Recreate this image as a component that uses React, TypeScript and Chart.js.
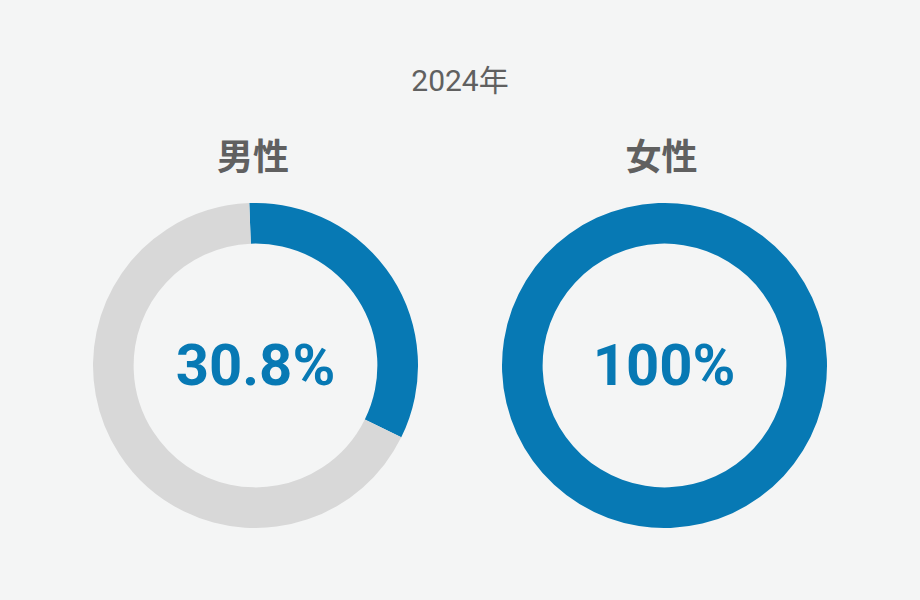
import React, { useEffect, useRef } from 'react';
import { Chart, registerables } from 'chart.js';

Chart.register(...registerables);

const yearLabel = '2024年';
const groups = ['男性', '女性'];
// arc sizes as drawn in the picture (the male arc is drawn a bit larger than its label)
const arcShares = [32.9, 100];
const shareLabels = ['30.8%', '100%'];

const blue = '#0779b4';
const rest = '#d8d8d8';
const textGray = '#606060';
const bg = '#f4f5f5';

const Ring: React.FC<{ value: number; left: number }> = ({ value, left }) => {
  const canvasRef = useRef<HTMLCanvasElement>(null);

  useEffect(() => {
    if (!canvasRef.current) return;
    const chart = new Chart(canvasRef.current, {
      type: 'doughnut',
      data: {
        labels: ['該当', 'その他'],
        datasets: [{
          data: [value, 100 - value],
          backgroundColor: [blue, rest],
          borderWidth: 0,
        }],
      },
      options: {
        responsive: false,
        animation: false,
        cutout: '75%',
        rotation: -2.2,
        layout: { padding: 0 },
        plugins: {
          legend: { display: false },
          tooltip: { enabled: false },
        },
      },
    });
    return () => chart.destroy();
  }, [value]);

  return (
    <canvas ref={canvasRef} width={325} height={325}
            style={{ position: 'absolute', left, top: 203, width: 325, height: 325 }} />
  );
};

export default function App() {
  const centers = [255.5, 664];
  return (
    <div style={{ position: 'fixed', left: 0, top: 0, width: 920, height: 600, background: bg, overflow: 'hidden' }}>
      <div style={{
        position: 'absolute', left: 0, width: 920, top: 66, textAlign: 'center',
        font: '400 30px Roboto, "Noto Sans CJK JP", sans-serif', lineHeight: '30px', color: textGray,
      }}>{yearLabel}</div>
      {groups.map((g, i) => (
        <React.Fragment key={g}>
          <div style={{
            position: 'absolute', left: centers[i] - 2.5 - 100, width: 200, top: 136, textAlign: 'center',
            font: '700 36px "Noto Sans CJK JP", sans-serif', lineHeight: '36px', color: textGray,
          }}>{g}</div>
          <Ring value={arcShares[i]} left={Math.round(centers[i] - 162.5)} />
          <div style={{
            position: 'absolute', left: centers[i] - 150, width: 300, top: 336, textAlign: 'center',
            font: '700 58px Roboto, sans-serif', lineHeight: '58px', color: blue,
          }}>{shareLabels[i]}</div>
        </React.Fragment>
      ))}
    </div>
  );
}
